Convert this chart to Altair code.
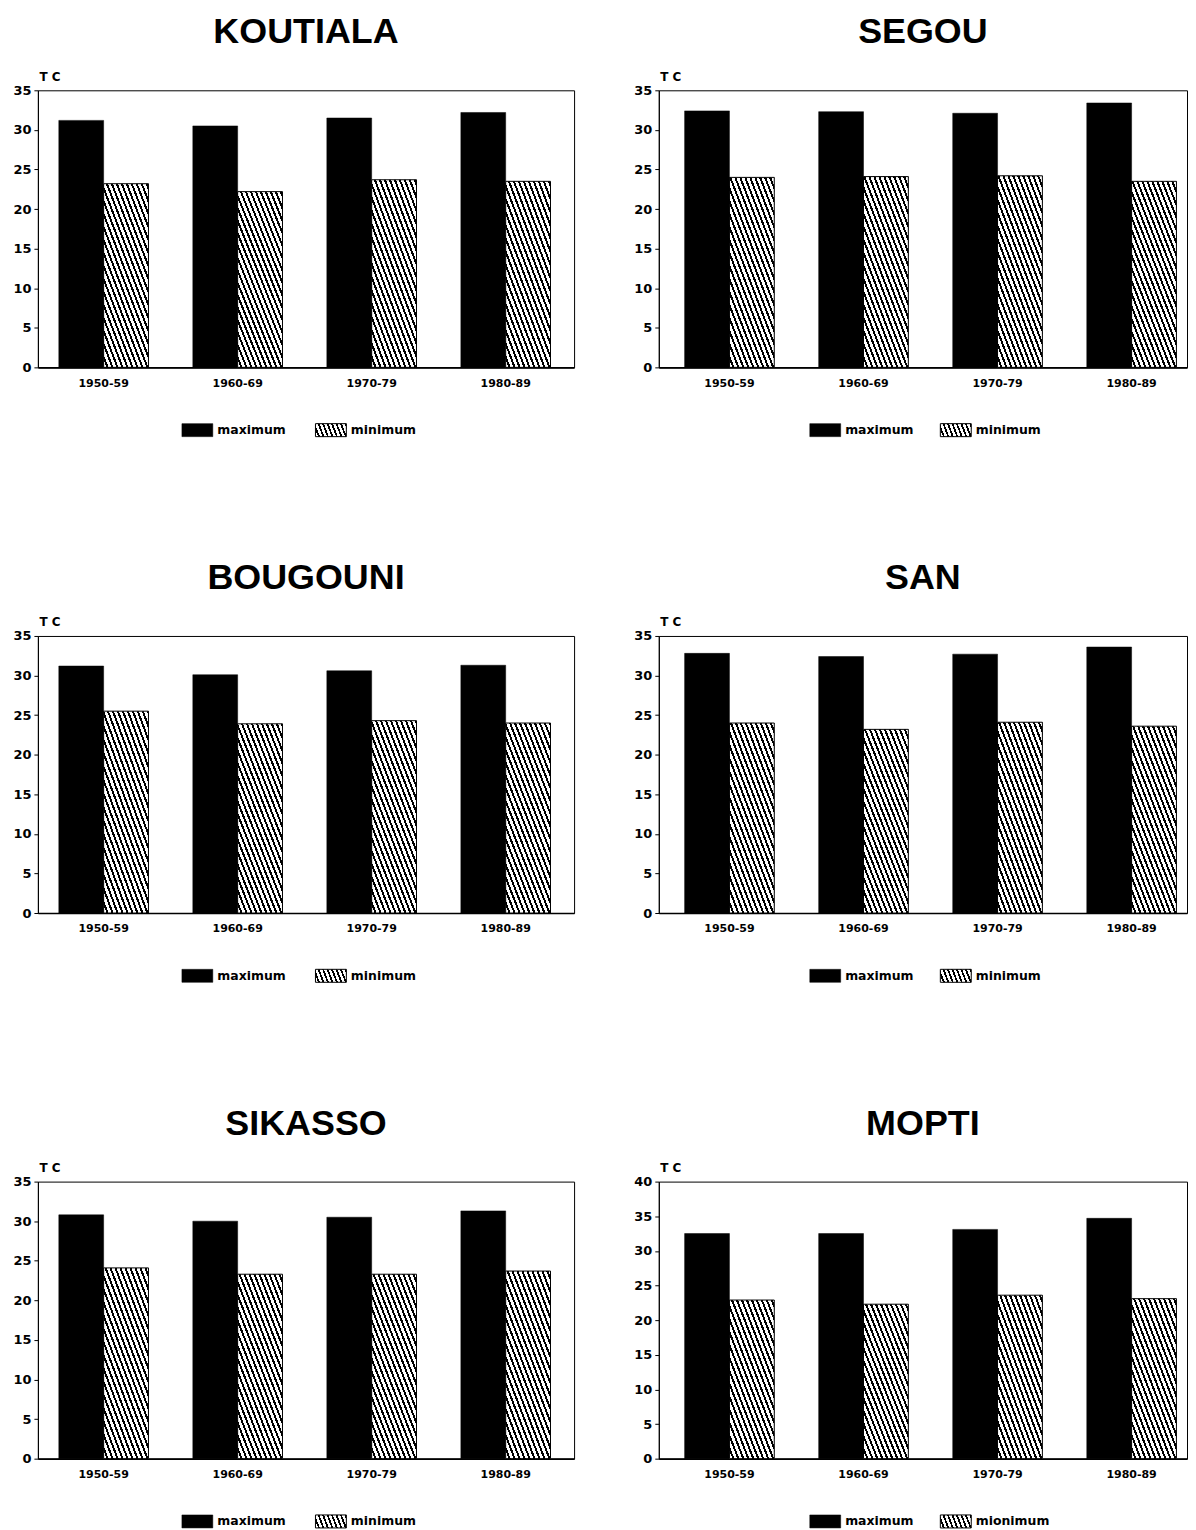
import altair as alt
import pandas as pd

# ---------------- data ----------------
stations = ["KOUTIALA", "SEGOU", "BOUGOUNI", "SAN", "SIKASSO", "MOPTI"]
decades = ["1950-59", "1960-69", "1970-79", "1980-89"]

koutiala_max = [31.2, 30.5, 31.5, 32.2]
koutiala_min = [23.2, 22.2, 23.7, 23.5]
segou_max = [32.4, 32.3, 32.1, 33.4]
segou_min = [24.0, 24.1, 24.2, 23.5]
bougouni_max = [31.2, 30.1, 30.6, 31.3]
bougouni_min = [25.5, 23.9, 24.3, 24.0]
san_max = [32.8, 32.4, 32.7, 33.6]
san_min = [24.0, 23.2, 24.1, 23.6]
sikasso_max = [30.8, 30.0, 30.5, 31.3]
sikasso_min = [24.1, 23.3, 23.3, 23.7]
mopti_max = [32.5, 32.5, 33.1, 34.7]
mopti_min = [22.9, 22.3, 23.6, 23.1]

max_series = [koutiala_max, segou_max, bougouni_max, san_max, sikasso_max, mopti_max]
min_series = [koutiala_min, segou_min, bougouni_min, san_min, sikasso_min, mopti_min]
y_tops = [35, 35, 35, 35, 35, 40]
legend_labels = [
    ["maximum", "minimum"],
    ["maximum", "minimum"],
    ["maximum", "minimum"],
    ["maximum", "minimum"],
    ["maximum", "minimum"],
    ["maximum", "mionimum"],
]
y_title = "T C"

# ---------------- style ----------------
PWS = [538, 530]          # plot width, left / right column
PH = 278
AXIS_EXT = 29
LABEL_FONT = "DejaVu Sans"
TITLE_FONT = "Liberation Sans"


def hatch(w, h, slope=2.6, period=5.0, ink=0.42):
    """Linear gradient (bounding-box units) that draws '\\' stripes."""
    a = h / slope
    k = (w + a) / (w * w + a * a)
    x2 = k * w
    y2 = 1 - k * a
    n = (w + a) / period
    stops = []
    i = 0
    while i / n < 1:
        s0 = i / n
        s1 = min(1.0, (i + 1 - ink) / n)
        s2 = min(1.0, (i + 1) / n)
        stops += [
            {"offset": round(s0, 5), "color": "white"},
            {"offset": round(s1, 5), "color": "white"},
            {"offset": round(s1, 5), "color": "black"},
            {"offset": round(s2, 5), "color": "black"},
        ]
        i += 1
    return {"gradient": "linear", "x1": 0, "y1": 1, "x2": round(x2, 5),
            "y2": round(y2, 5), "stops": stops}


def panel(idx, col):
    name = stations[idx]
    ytop = y_tops[idx]
    pw = PWS[col]
    df = pd.DataFrame({
        "decade": decades * 2,
        "series": ["max"] * 4 + ["min"] * 4,
        "value": max_series[idx] + min_series[idx],
    })
    if col == 0:
        xscale = alt.Scale(paddingInner=0.331, paddingOuter=0.166, align=0.47)
    else:
        xscale = alt.Scale(paddingInner=0.331, paddingOuter=0.1357, align=0.71)
    xenc = alt.X("decade:N", sort=decades, scale=xscale,
                 axis=alt.Axis(title=None, labelAngle=0, ticks=False, labelPadding=10,
                               labelFont=LABEL_FONT, labelFontSize=11, labelFontWeight="bold",
                               labelColor="black", domainColor="black", domainWidth=1.6))
    yenc = alt.Y("value:Q",
                 scale=alt.Scale(domain=[0, ytop], nice=False),
                 axis=alt.Axis(values=list(range(0, ytop + 1, 5)), grid=False,
                               tickSize=4, tickColor="black", domainColor="black",
                               labelPadding=3, labelFont=LABEL_FONT, labelFontSize=13,
                               labelFontWeight="bold", labelColor="black",
                               minExtent=AXIS_EXT, maxExtent=AXIS_EXT,
                               title=y_title, titleAngle=0, titleAlign="left",
                               titleBaseline="alphabetic", titleX=1, titleY=-10,
                               titleFont=LABEL_FONT, titleFontSize=12,
                               titleFontWeight="bold", titleColor="black"))
    xoff = alt.XOffset("series:N", scale=alt.Scale(domain=["max", "min"],
                                                  paddingInner=0, paddingOuter=0))
    base = alt.Chart(df)
    bars_max = base.transform_filter(alt.datum.series == "max").mark_bar(
        fill="black", stroke="black", strokeWidth=0.5
    ).encode(x=xenc, y=yenc, xOffset=xoff)

    mean_min = sum(min_series[idx]) / 4.0
    grad = hatch(45, mean_min * PH / ytop)
    bars_min = base.transform_filter(alt.datum.series == "min").mark_bar(
        fill=grad, stroke="black", strokeWidth=1
    ).encode(x=xenc, y=yenc, xOffset=xoff)

    chart = alt.layer(bars_max, bars_min).properties(
        width=pw, height=PH,
        title=alt.TitleParams(name, font=TITLE_FONT, fontSize=36, fontWeight="bold",
                              color="black", anchor="middle", frame="group", offset=19),
        view=alt.ViewBackground(stroke="black", strokeWidth=1),
    )

    labels = legend_labels[idx]
    ldf = pd.DataFrame({"label": labels, "kind": ["max", "min"]})
    rng = [160, 294] if col == 0 else [167, 298]
    lx = alt.X("label:N", sort=labels, axis=None,
               scale=alt.Scale(type="point", domain=labels, range=rng, padding=0))
    shape = "M-1,-0.42H1V0.42H-1Z"
    lbase = alt.Chart(ldf)
    sw_max = lbase.transform_filter(alt.datum.kind == "max").mark_point(
        shape=shape, size=961, filled=True, fill="black", stroke="black",
        strokeWidth=0.5, opacity=1
    ).encode(x=lx)
    sw_min = lbase.transform_filter(alt.datum.kind == "min").mark_point(
        shape=shape, size=961, filled=True, fill=hatch(31, 13, period=4.5),
        stroke="black", strokeWidth=1, opacity=1
    ).encode(x=lx)
    txt = lbase.mark_text(align="left", baseline="middle", dx=20, font=LABEL_FONT,
                          fontSize=12.5, fontWeight="bold", color="black").encode(
        x=lx, text="label:N")
    legend = alt.layer(sw_max, sw_min, txt).properties(
        width=pw, height=14, view=alt.ViewBackground(strokeOpacity=0))
    return alt.vconcat(chart, legend, spacing=32)


panels = [panel(i, i % 2) for i in range(6)]
chart = alt.concat(*panels, columns=2, spacing={"row": 120.5, "column": 54}).properties(
    padding={"top": 3, "left": 0, "right": 0, "bottom": 0}
).configure(background="white")

chart.save("out.html", embed_options={"renderer": "svg", "actions": False})
